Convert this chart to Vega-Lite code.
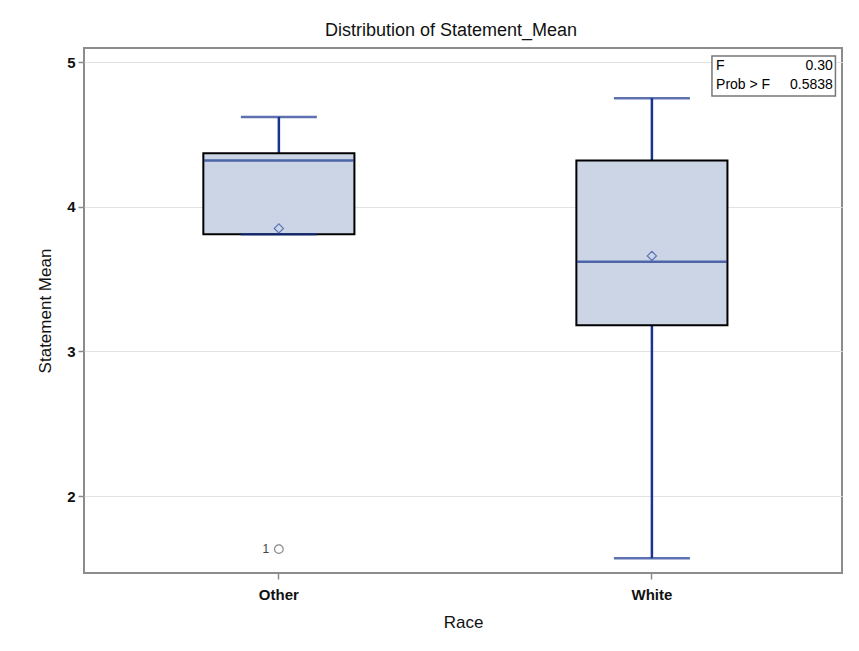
{
  "$schema": "https://vega.github.io/schema/vega-lite/v6.json",
  "autosize": "none",
  "width": 758,
  "height": 525,
  "padding": {"left": 84, "top": 48, "right": 17, "bottom": 78},
  "background": "white",
  "title": {"text": "Distribution of Statement_Mean", "fontSize": 18, "fontWeight": "normal", "font": "Liberation Sans", "color": "#111", "offset": 8, "anchor": "middle", "dx": -12},
  "datasets": {
    "boxes": [
      {"race": "Other", "low": 3.81, "q1": 3.81, "median": 4.32, "q3": 4.37, "high": 4.62, "mean": 3.85},
      {"race": "White", "low": 1.57, "q1": 3.18, "median": 3.62, "q3": 4.32, "high": 4.75, "mean": 3.66}
    ],
    "outliers": [{"race": "Other", "value": 1.633, "obs": "1"}],
    "stats": [{"stat": "F", "value": "0.30"}, {"stat": "Prob > F", "value": "0.5838"}]
  },
  "data": {"name": "boxes"},
  "encoding": {
    "x": {"field": "race", "type": "nominal", "title": "Race",
      "scale": {"paddingInner": 0, "paddingOuter": 0.016, "align": 0.7},
      "axis": {"labelAngle": 0, "grid": false}}
  },
  "layer": [
    {
      "mark": {"type": "rule", "color": "#18348f", "strokeWidth": 2.5},
      "encoding": {
        "y": {"field": "low", "type": "quantitative", "title": "Statement Mean",
          "scale": {"domain": [1.468, 5.097], "nice": false, "zero": false},
          "axis": {"values": [2, 3, 4, 5], "grid": true, "format": "d"}},
        "y2": {"field": "q1"}
      }
    },
    {
      "mark": {"type": "rule", "color": "#18348f", "strokeWidth": 2.5},
      "encoding": {"y": {"field": "q3", "type": "quantitative"}, "y2": {"field": "high"}}
    },
    {
      "mark": {"type": "bar", "width": {"band": 0.405}, "fill": "#cbd5e5", "stroke": "#000", "strokeWidth": 2},
      "encoding": {"y": {"field": "q1", "type": "quantitative"}, "y2": {"field": "q3"}}
    },
    {
      "mark": {"type": "tick", "color": "#18348f", "size": 150, "thickness": 2.5},
      "encoding": {"y": {"field": "median", "type": "quantitative"}}
    },
    {
      "mark": {"type": "tick", "color": "#18348f", "size": 76, "thickness": 2.5},
      "encoding": {"y": {"field": "low", "type": "quantitative"}}
    },
    {
      "mark": {"type": "tick", "color": "#18348f", "size": 76, "thickness": 2.5},
      "encoding": {"y": {"field": "high", "type": "quantitative"}}
    },
    {
      "mark": {"type": "point", "shape": "diamond", "filled": false, "stroke": "#2e4ca8", "strokeWidth": 1.2, "size": 85},
      "encoding": {"y": {"field": "mean", "type": "quantitative"}}
    },
    {
      "data": {"name": "outliers"},
      "mark": {"type": "point", "shape": "circle", "filled": false, "stroke": "#555", "strokeWidth": 1.2, "size": 75},
      "encoding": {"y": {"field": "value", "type": "quantitative"}}
    },
    {
      "data": {"name": "outliers"},
      "mark": {"type": "text", "font": "Liberation Sans", "fontSize": 12, "color": "#444", "dx": -13, "align": "center", "baseline": "middle"},
      "encoding": {"y": {"field": "value", "type": "quantitative"}, "text": {"field": "obs"}}
    },
    {
      "data": {"values": [{}]},
      "mark": {"type": "rect", "fill": "white", "stroke": "#777", "strokeWidth": 1.5},
      "encoding": {
        "x": {"datum": "White", "bandPosition": 0.661},
        "x2": {"datum": "White", "bandPosition": 0.992},
        "y": {"datum": 5.042},
        "y2": {"datum": 4.765}
      }
    },
    {
      "data": {"name": "stats"},
      "transform": [{"filter": "datum.stat == 'F'"}],
      "layer": [
        {"mark": {"type": "text", "font": "Liberation Sans", "fontSize": 14, "color": "#000", "align": "left", "baseline": "middle"},
          "encoding": {"x": {"datum": "White", "bandPosition": 0.672}, "y": {"datum": 4.97}, "text": {"field": "stat"}}},
        {"mark": {"type": "text", "font": "Liberation Sans", "fontSize": 14, "color": "#000", "align": "right", "baseline": "middle"},
          "encoding": {"x": {"datum": "White", "bandPosition": 0.985}, "y": {"datum": 4.97}, "text": {"field": "value"}}}
      ]
    },
    {
      "data": {"name": "stats"},
      "transform": [{"filter": "datum.stat != 'F'"}],
      "layer": [
        {"mark": {"type": "text", "font": "Liberation Sans", "fontSize": 14, "color": "#000", "align": "left", "baseline": "middle"},
          "encoding": {"x": {"datum": "White", "bandPosition": 0.672}, "y": {"datum": 4.84}, "text": {"field": "stat"}}},
        {"mark": {"type": "text", "font": "Liberation Sans", "fontSize": 14, "color": "#000", "align": "right", "baseline": "middle"},
          "encoding": {"x": {"datum": "White", "bandPosition": 0.985}, "y": {"datum": 4.84}, "text": {"field": "value"}}}
      ]
    }
  ],
  "config": {
    "font": "Liberation Sans",
    "view": {"stroke": "#8c8c8c", "strokeWidth": 2},
    "axis": {
      "domain": false,
      "tickColor": "#8c8c8c",
      "tickSize": 6,
      "tickWidth": 1.5,
      "gridColor": "#e2e2e2",
      "gridWidth": 1.2,
      "labelFont": "Liberation Sans",
      "labelFontSize": 15,
      "labelFontWeight": "bold",
      "labelColor": "#111",
      "titleFont": "Liberation Sans",
      "titleFontSize": 17,
      "titleFontWeight": "normal",
      "titleColor": "#111"
    },
    "axisY": {"titlePadding": 12, "labelPadding": 3},
    "axisX": {"titlePadding": 12, "labelPadding": 8}
  }
}
